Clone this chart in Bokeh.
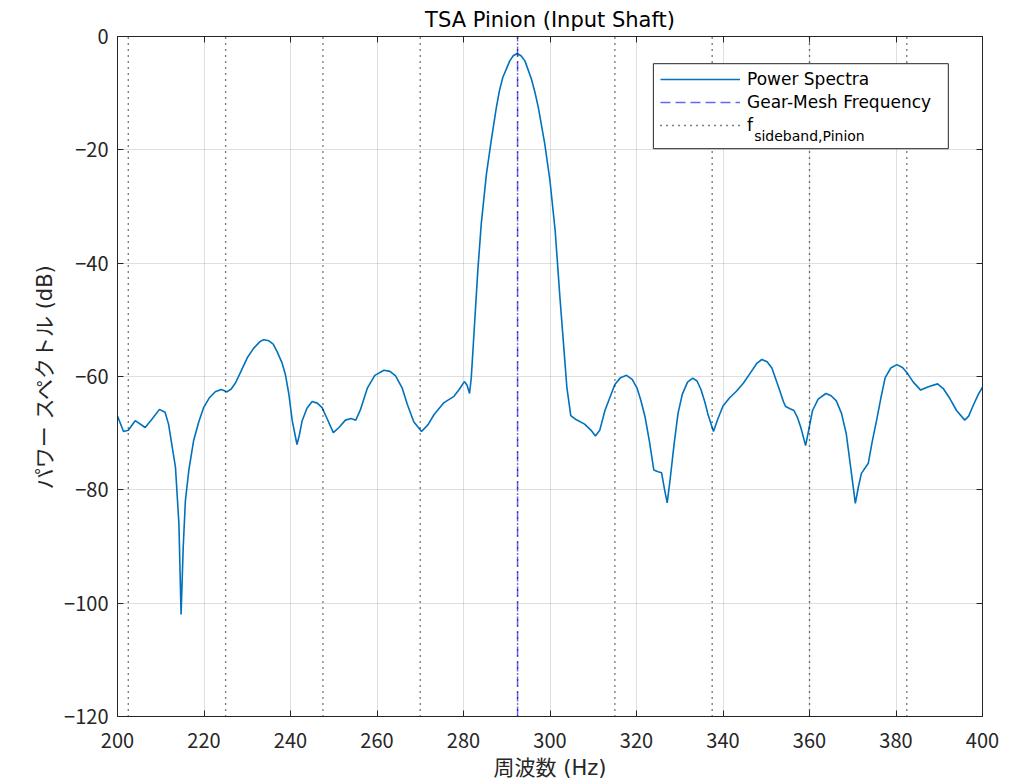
from bokeh.plotting import figure
from bokeh.models import (Range1d, LinearAxis, Legend, LegendItem, Label,
                          FixedTicker, CustomJSTickFormatter, BoxAnnotation)
from bokeh.embed import file_html
from bokeh.resources import INLINE

# ---------------- data ----------------
freq = [200.0, 201.4, 202.5, 204.1, 206.4, 208.0, 209.7, 211.0, 211.8, 213.4,
        214.2, 214.7, 215.2, 215.7, 216.5, 217.6, 218.8, 219.9, 221.2, 222.6,
        224.0, 225.3, 226.3, 227.3, 228.6, 230.0, 231.5, 233.0, 233.8, 235.0,
        236.0, 236.9, 238.0, 238.8, 239.6, 240.4, 241.5, 242.0, 242.7, 243.8,
        245.0, 246.2, 247.3, 248.5, 249.9, 251.2, 252.7, 254.0, 255.1, 256.2,
        257.8, 259.5, 261.6, 263.0, 264.3, 265.8, 267.0, 268.5, 270.3, 271.8,
        273.2, 275.5, 277.8, 279.0, 280.2, 280.8, 281.4, 281.8, 282.6, 283.3,
        284.1, 285.3, 286.4, 287.6, 288.3, 289.1, 290.7, 291.5, 292.4, 293.3,
        294.2, 295.7, 296.5, 297.3,
        298.8, 300.0, 301.2, 302.3, 303.2, 303.9, 304.8, 306.0, 308.0, 309.5,
        310.5, 311.5, 312.7, 315.0, 316.3, 317.7, 319.0, 320.1, 321.0, 322.0,
        323.0, 324.0, 325.0, 325.8, 326.5, 327.1, 327.8, 328.7, 329.6, 330.6,
        331.8, 333.0, 334.0, 334.9, 335.8, 336.5, 337.8, 338.8, 340.0, 341.5,
        343.1, 344.7, 346.3, 347.8, 349.0, 350.2, 351.3, 352.9, 354.0, 354.5,
        355.5, 356.4, 357.2, 358.0, 359.1, 359.8, 360.7, 362.0, 363.8, 365.0,
        366.2, 367.4, 368.5, 369.7, 370.6, 371.3, 372.0, 373.6, 374.5, 375.5,
        376.5, 377.5, 378.8, 380.2, 381.5, 382.6, 384.0, 385.7, 387.5, 389.6,
        391.0, 392.3, 394.0, 395.9, 396.8, 397.8, 399.0, 400.0]
power_db = [-67.0, -69.7, -69.5, -67.8, -69.0, -67.5, -65.8, -66.3, -68.4, -76.0,
            -86.0, -102.0, -90.0, -81.9, -76.5, -71.3, -68.0, -65.5, -63.8, -62.7,
            -62.3, -62.7, -62.2, -61.1, -59.0, -56.7, -55.0, -53.8, -53.5, -53.7,
            -54.3, -55.6, -57.5, -59.6, -63.0, -67.8, -72.0, -70.5, -67.8, -65.6,
            -64.4, -64.7, -65.5, -67.5, -69.9, -69.0, -67.7, -67.4, -67.7, -65.8,
            -62.0, -59.8, -58.9, -59.1, -59.9, -62.0, -64.9, -68.0, -69.7, -68.5,
            -66.7, -64.6, -63.5, -62.3, -60.9, -61.5, -63.0, -60.2, -50.2, -41.4,
            -33.1, -24.3, -18.4, -12.5, -9.6, -7.2, -4.3, -3.4, -3.0, -3.4,
            -4.3, -7.5, -9.8, -12.5,
            -19.0, -25.5, -34.3, -46.1, -55.0, -61.9, -66.9, -67.6, -68.4, -69.5,
            -70.5, -69.5, -66.0, -61.4, -60.2, -59.8, -60.5, -62.0, -64.2, -67.2,
            -71.5, -76.5, -76.8, -77.0, -80.0, -82.3, -78.0, -71.9, -66.5, -63.1,
            -61.0, -60.3, -60.8, -62.3, -64.5, -66.6, -69.7, -67.5, -65.2, -63.8,
            -62.6, -61.2, -59.4, -57.7, -57.0, -57.4, -58.5, -62.0, -64.5, -65.3,
            -65.7, -66.0, -67.2, -69.0, -72.2, -69.5, -66.0, -64.0, -63.0, -63.4,
            -64.3, -66.5, -70.1, -77.1, -82.4, -79.5, -77.1, -75.3, -71.5, -67.8,
            -63.8, -60.2, -58.5, -57.9, -58.4, -59.4, -61.0, -62.4, -61.8, -61.3,
            -62.2, -63.7, -66.0, -67.7, -67.0, -65.2, -63.2, -61.9]
gear_mesh_freq = [292.5]
sideband_freqs = [202.5, 225.0, 247.5, 270.0, 292.5, 315.0, 337.5, 360.0, 382.5]
x_ticks = [200, 220, 240, 260, 280, 300, 320, 340, 360, 380, 400]
y_ticks = [-120, -100, -80, -60, -40, -20, 0]

CJK = "Noto Sans CJK JP"
MIX = "DejaVu Sans, Noto Sans CJK JP"
LAT = "DejaVu Sans"
AX = "#262626"

p = figure(frame_width=865, frame_height=680,
           x_range=Range1d(200, 400), y_range=Range1d(-120, 0),
           output_backend="svg", toolbar_location=None,
           min_border_left=117, min_border_top=28, min_border_right=20,
           min_border_bottom=2)
p.background_fill_color = "white"
p.border_fill_color = "white"
p.outline_line_color = AX
p.outline_line_width = 1

y_lo, y_hi = p.y_range.start, p.y_range.end

spec = p.line(freq, power_db, line_color="#0072BD", line_width=1.6)
gmf = p.multi_line(xs=[[f, f] for f in gear_mesh_freq],
                   ys=[[y_lo, y_hi] for _ in gear_mesh_freq],
                   line_color="blue", line_alpha=0.6, line_width=1.5,
                   line_dash="10 5")
sb = p.multi_line(xs=[[f, f] for f in sideband_freqs],
                  ys=[[y_lo, y_hi] for _ in sideband_freqs],
                  line_color="black", line_width=1.4, line_dash="1 5")

fmt = CustomJSTickFormatter(code="return String(tick).replace('-', '\u2212');")
blank = CustomJSTickFormatter(code="return '';")

for ax in (p.xaxis[0], p.yaxis[0]):
    ax.axis_line_color = AX
    ax.major_tick_line_color = AX
    ax.major_tick_in = 6
    ax.major_tick_out = 0
    ax.minor_tick_line_color = None
    ax.major_label_text_font = CJK
    ax.major_label_text_font_size = "20px"
    ax.major_label_text_color = AX
    ax.axis_label_text_font = MIX
    ax.axis_label_text_font_size = "21px"
    ax.axis_label_text_font_style = "normal"
    ax.axis_label_text_color = AX
    ax.formatter = fmt

p.xaxis.ticker = FixedTicker(ticks=x_ticks)
p.yaxis.ticker = FixedTicker(ticks=y_ticks)
p.xaxis.major_label_standoff = 16
p.yaxis.major_label_standoff = 9
p.xaxis.axis_label = "周波数 (Hz)"
p.yaxis.axis_label = "パワー スペクトル (dB)"
p.xaxis.axis_label_standoff = 5
p.yaxis.axis_label_standoff = 4

top = LinearAxis(ticker=FixedTicker(ticks=x_ticks), formatter=blank,
                 major_label_text_font_size="0px",
                 major_label_standoff=0, major_tick_in=6, major_tick_out=0,
                 minor_tick_line_color=None, axis_line_color=AX,
                 major_tick_line_color=AX)
right = LinearAxis(ticker=FixedTicker(ticks=y_ticks), formatter=blank,
                   major_label_text_font_size="0px",
                   major_label_standoff=0, major_tick_in=6, major_tick_out=0,
                   minor_tick_line_color=None, axis_line_color=AX,
                   major_tick_line_color=AX)
p.add_layout(top, "above")
p.add_layout(right, "right")

p.xgrid.ticker = FixedTicker(ticks=x_ticks)
p.ygrid.ticker = FixedTicker(ticks=y_ticks)
p.grid.grid_line_color = "#262626"
p.grid.grid_line_alpha = 0.15
p.grid.grid_line_width = 1

p.title.text = "TSA Pinion (Input Shaft)"
p.title.align = "center"
p.title.text_font = LAT
p.title.text_font_size = "21px"
p.title.text_font_style = "normal"
p.title.text_color = "black"

# legend background / frame (layout only)
legend_bg = BoxAnnotation(left=323.9, right=392.1, top=-4.8, bottom=-19.8,
                          fill_color="white", fill_alpha=1.0,
                          line_color=AX, line_width=1, line_alpha=1.0,
                          level="annotation")
p.add_layout(legend_bg)

legend = Legend(items=[LegendItem(label="Power Spectra", renderers=[spec]),
                       LegendItem(label="Gear-Mesh Frequency", renderers=[gmf]),
                       LegendItem(label="f", renderers=[sb])],
                location=(543, 581), orientation="vertical",
                label_text_font=LAT, label_text_font_size="17px",
                label_text_color="black",
                glyph_width=80, glyph_height=20, label_height=20,
                label_standoff=7, spacing=3, padding=9, margin=0,
                border_line_color=None,
                background_fill_color=None, background_fill_alpha=0.0)
p.add_layout(legend, "center")

sub = Label(x=347.2, y=-17.6, text="sideband,Pinion", text_font=LAT,
            text_font_size="14px", text_color="black",
            text_baseline="alphabetic", level="overlay")
p.add_layout(sub)

with open("out.html", "w", encoding="utf-8") as fh:
    fh.write(file_html(p, INLINE))
